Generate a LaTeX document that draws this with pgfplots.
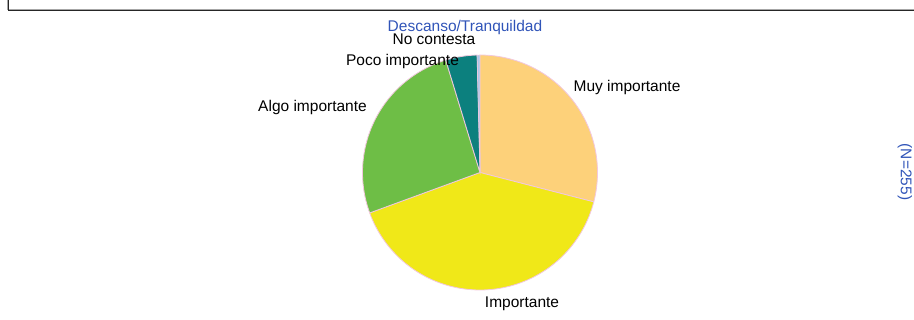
\documentclass[border=0pt]{standalone}
\usepackage{pgfplots}
\pgfplotsset{compat=1.18}
\usepgfplotslibrary{polar}
\usepackage{fontspec}
\setmainfont{Liberation Sans}
\definecolor{cMuy}{RGB}{253,209,122}
\definecolor{cImp}{RGB}{240,232,24}
\definecolor{cAlgo}{RGB}{110,190,70}
\definecolor{cPoco}{RGB}{12,128,126}
\definecolor{cNC}{RGB}{170,200,232}
\definecolor{cEdge}{RGB}{242,200,222}
\definecolor{cBlue}{RGB}{48,84,184}
% counts (N = 255), clockwise from 12 o'clock
\def\nMuy{74}
\def\nImp{103}
\def\nAlgo{66}
\def\nPoco{11}
\def\nNC{1}
\def\nTot{255}
\begin{document}
\begin{tikzpicture}[x=1pt,y=1pt]
\pgfmathsetmacro\aA{90}
\pgfmathsetmacro\aB{\aA-\nMuy/\nTot*360}
\pgfmathsetmacro\aC{\aB-\nImp/\nTot*360}
\pgfmathsetmacro\aD{\aC-\nAlgo/\nTot*360}
\pgfmathsetmacro\aE{\aD-\nPoco/\nTot*360}
\pgfmathsetmacro\aF{\aE-\nNC/\nTot*360}
\useasboundingbox (0,0) rectangle (914,320);
% frame
\draw[line width=1pt, black!35] (7,320) -- (7,310.8) -- (914,310.8);
\draw[line width=1.3pt, black!85] (8.5,320) -- (8.5,309.5) -- (914,309.5);
\begin{polaraxis}[at={(480pt,147.5pt)}, anchor=origin, scale only axis,
  width=235pt, height=235pt, hide axis, xmin=0, xmax=360, ymin=0, ymax=1, clip=false]
\addplot[fill=cMuy, draw=cEdge, line width=0.8pt, domain=\aB:\aA, samples=60] {1} -- (axis cs:0,0) -- cycle;
\addplot[fill=cImp, draw=cEdge, line width=0.8pt, domain=\aC:\aB, samples=80] {1} -- (axis cs:0,0) -- cycle;
\addplot[fill=cAlgo, draw=cEdge, line width=0.8pt, domain=\aD:\aC, samples=60] {1} -- (axis cs:0,0) -- cycle;
\addplot[fill=cPoco, draw=cEdge, line width=0.8pt, domain=\aE:\aD, samples=15] {1} -- (axis cs:0,0) -- cycle;
\addplot[fill=cNC, draw=cEdge, line width=0.5pt, domain=\aF:\aE, samples=5] {1} -- (axis cs:0,0) -- cycle;
\end{polaraxis}
\begin{scope}[font=\fontsize{15.5}{18}\selectfont]
\node[text=cBlue] at (465,292) {Descanso/Tranquildad};
\node at (434,281) {No contesta};
\node at (402.5,258) {Poco importante};
\node at (312.5,212) {Algo importante};
\node at (627,232) {Muy importante};
\node at (522,16) {Importante};
\node[text=cBlue, rotate=-90] at (905,148) {(N=255)};
\end{scope}
\end{tikzpicture}
\end{document}
